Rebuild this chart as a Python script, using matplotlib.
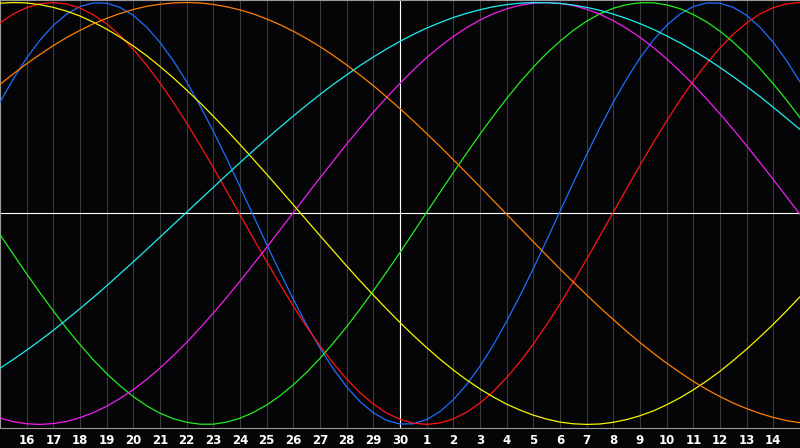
#!/usr/bin/env python3
"""
Biorhythm chart: seven cycles over a month, today marked in the middle.
Values are read off at half-day steps from the left edge.
"""

import numpy as np
import matplotlib
matplotlib.use("Agg")
import matplotlib.pyplot as plt

# day labels along the bottom (16 .. 30, then 1 .. 14 of the next month)
day_labels = [str(d) for d in range(16, 31)] + [str(d) for d in range(1, 15)]
today_label = "30"

# sample points: half-day steps, 0 = left edge, 1 = first label ("16")
steps = np.arange(0, 30.5, 0.5)

# cycle values in tenths of a percent (-1000 .. 1000)
physical = [528, 638, 737, 822, 892, 945, 981, 998, 997, 977, 939, 883, 811, 724, 624, 511, 390,
            261, 127, -10, -146, -279, -407, -528, -638, -737, -822, -892, -945, -981, -998, -997,
            -977, -939, -883, -811, -724, -624, -511, -390, -261, -127, 10, 146, 279, 407, 528,
            638, 737, 822, 892, 945, 981, 998, 997, 977, 939, 883, 811, 724, 624]
emotional = [903, 946, 976, 994, 1000, 993, 974, 942, 899, 844, 778, 703, 619, 527, 429, 325, 217,
             106, -6, -118, -228, -336, -439, -537, -628, -711, -785, -850, -903, -946, -976, -994,
             -1000, -993, -974, -942, -899, -844, -778, -703, -619, -527, -429, -325, -217, -106,
             6, 118, 228, 336, 439, 537, 628, 711, 785, 850, 903, 946, 976, 994, 1000]
intellectual = [-100, -194, -286, -376, -462, -545, -622, -694, -759, -817, -868, -912, -947, -973,
                -990, -999, -999, -989, -971, -943, -908, -864, -812, -753, -687, -614, -537,
                -454, -367, -277, -185, -90, 5, 100, 194, 286, 376, 462, 545, 622, 694, 759, 817,
                868, 912, 947, 973, 990, 999, 999, 989, 971, 943, 908, 864, 812, 753, 687, 614,
                537, 454]
intuitive = [-970, -987, -997, -1000, -996, -986, -968, -944, -914, -877, -835, -787, -733, -674,
             -611, -543, -472, -398, -321, -241, -161, -78, 4, 87, 169, 249, 329, 405, 480, 550,
             617, 680, 739, 792, 839, 881, 917, 947, 970, 987, 997, 1000, 996, 986, 968, 944, 914,
             877, 835, 787, 733, 674, 611, 543, 472, 398, 321, 241, 161, 78, -4]
aesthetic = [997, 1000, 998, 990, 977, 959, 936, 907, 874, 836, 794, 748, 697, 643, 585, 525, 461,
             395, 327, 257, 186, 114, 41, -32, -105, -177, -249, -319, -387, -453, -517, -578,
             -636, -691, -742, -789, -832, -870, -904, -932, -956, -975, -989, -997, -1000, -998,
             -990, -977, -959, -936, -907, -874, -836, -794, -748, -697, -643, -585, -525, -461,
             -395]
awareness = [612, 662, 710, 754, 796, 834, 868, 899, 925, 948, 967, 982, 992, 998, 1000, 998, 991,
             980, 965, 946, 922, 895, 864, 829, 791, 749, 704, 656, 606, 552, 497, 439, 379, 318,
             255, 191, 127, 61, -4, -69, -134, -199, -263, -325, -386, -446, -503, -559, -612,
             -662, -710, -754, -796, -834, -868, -899, -925, -948, -967, -982, -992]
spiritual = [-734, -692, -648, -602, -554, -503, -451, -398, -343, -286, -229, -171, -112, -53, 6,
             65, 124, 183, 241, 298, 354, 409, 462, 514, 564, 612, 657, 701, 742, 780, 816, 849,
             879, 905, 929, 949, 966, 980, 990, 997, 1000, 999, 996, 988, 977, 963, 945, 924, 900,
             873, 842, 809, 773, 734, 692, 648, 602, 554, 503, 451, 398]

BG = "#050507"
CYCLES = [
    (physical, "#1e6eff"),
    (emotional, "#ff1414"),
    (intellectual, "#22ee1e"),
    (intuitive, "#f020f0"),
    (aesthetic, "#f5f500"),
    (awareness, "#ff8000"),
    (spiritual, "#20eeee"),
]


def main():
    fig = plt.figure(figsize=(8, 4.48), dpi=100, facecolor=BG)
    ax = fig.add_axes([0, 20 / 448, 1, 428 / 448], facecolor=BG)

    positions = np.arange(1, len(day_labels) + 1)
    today = positions[day_labels.index(today_label)]

    # day grid, today marker and the zero line
    ax.vlines(positions, -2000, 2000, color="#3a3a3a", lw=0.8, zorder=1)
    ax.axvline(today, color="white", lw=0.8, zorder=2)
    ax.axhline(0, color="white", lw=0.8, zorder=2)

    for values, color in CYCLES:
        ax.plot(steps, values, color=color, lw=0.9, zorder=3)

    ax.set_xlim(0, len(day_labels) + 1)
    ax.set_ylim(-1017, 1012)
    ax.set_xticks(positions, day_labels)
    ax.set_yticks([])
    ax.tick_params(axis="x", length=0, pad=4, labelcolor="white", labelsize=8.5)
    for lab in ax.get_xticklabels():
        lab.set_fontweight("bold")

    for s in ["top", "left", "bottom"]:
        ax.spines[s].set_color("#9a9a9a")
        ax.spines[s].set_linewidth(0.8)
    ax.spines["right"].set_visible(False)

    fig.savefig("out.png", facecolor=BG)
    plt.close(fig)


if __name__ == "__main__":
    main()
